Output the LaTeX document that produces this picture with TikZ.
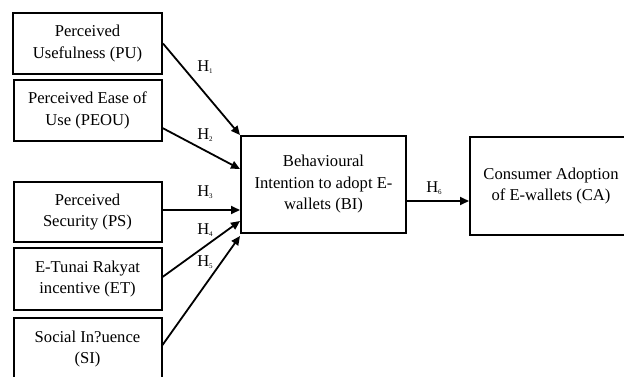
\documentclass[tikz,border=0pt]{standalone}
\usepackage{fontspec}
\setmainfont{Liberation Serif}
\usepackage{tikz}
\usetikzlibrary{arrows.meta}
\newcommand{\hyp}[1]{H\raisebox{-0.35ex}{\fontsize{7}{7}\selectfont #1}}

\begin{document}
\begin{tikzpicture}[x=1pt,y=-1pt,
  construct/.style={draw,line width=2pt,align=center,inner sep=2pt,
    font=\fontsize{16.6}{21.5}\selectfont},
  hyparrow/.style={line width=1.8pt,-{Triangle[length=9pt,width=8pt]}},
  hyplabel/.style={font=\fontsize{16.5}{18}\selectfont}]
\fill[white] (0,0) rectangle (624,376);
\clip (0,0) rectangle (624,376);
% independent variables
\node[construct,minimum width=149pt,minimum height=61pt] (pu) at (87.5,43.5) {Perceived\\Usefulness (PU)};
\node[construct,minimum width=148pt,minimum height=61pt] (peou) at (87.5,110.5) {Perceived Ease of\\Use (PEOU)};
\node[construct,minimum width=148pt,minimum height=60pt] (ps) at (87.5,212) {Perceived\\Security (PS)};
\node[construct,minimum width=148pt,minimum height=62pt] (et) at (87.5,279) {E-Tunai Rakyat\\incentive (ET)};
\node[construct,minimum width=148pt,minimum height=62pt] (si) at (87.5,349) {Social In?uence\\(SI)};
% mediator and outcome
\node[construct,minimum width=165pt,minimum height=97pt] (bi) at (323.5,184.5) {Behavioural\\Intention to adopt E-\\wallets (BI)};
\node[construct,minimum width=162pt,minimum height=98pt] (ca) at (551,186) {Consumer Adoption\\of E-wallets (CA)};
% hypotheses
\draw[hyparrow] (pu.east) -- (bi.north west);
\draw[hyparrow] ([yshift=-17.5pt]peou.east) -- ([yshift=-34pt]bi.north west);
\coordinate (h3) at ([yshift=2pt]ps.east);
\draw[hyparrow] (h3) -- (h3 -| bi.west);
\draw[hyparrow] ([yshift=2pt]et.east) -- ([yshift=-86pt]bi.north west);
\draw[hyparrow] ([yshift=4pt]si.east) -- ([yshift=-2pt]bi.south west);
\coordinate (h6) at ([yshift=-16.5pt]bi.east);
\draw[hyparrow] (h6) -- (h6 -| ca.west);
\node[hyplabel] (h1l) at (205,67) {\hyp{1}};
\node[hyplabel] (h2l) at (205,135) {\hyp{2}};
\node[hyplabel] (h3l) at (205,192) {\hyp{3}};
\node[hyplabel] (h4l) at (205,230) {\hyp{4}};
\node[hyplabel] (h5l) at (205,262) {\hyp{5}};
\node[hyplabel] (h6l) at (434,188) {\hyp{6}};
\end{tikzpicture}
\end{document}
